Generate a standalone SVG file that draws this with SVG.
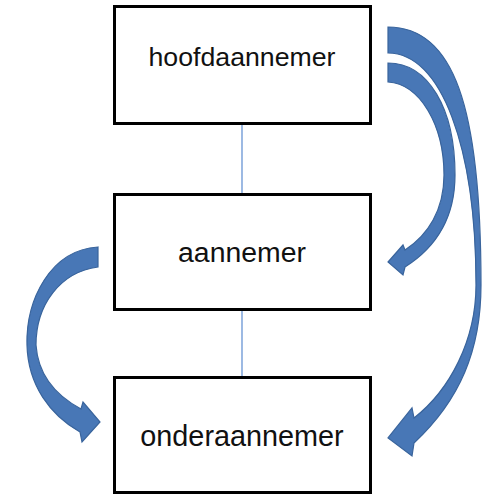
<svg xmlns="http://www.w3.org/2000/svg" width="498" height="496" viewBox="0 0 498 496">
<style>
.box{fill:#ffffff;stroke:#000000;stroke-width:3}
.lbl{font-family:"Liberation Sans",Arial,sans-serif;fill:#111111;text-anchor:middle}
.link{stroke:#5b8bd0;stroke-width:1.2;fill:none}
.arr{fill:#4877b6;stroke:#39649c;stroke-width:1.2;stroke-linejoin:miter}
</style>
<rect width="498" height="496" fill="#ffffff"/>
<g id="connectors">
<line class="link" x1="242" y1="125" x2="242" y2="193"/>
<line class="link" x1="242" y1="311" x2="242" y2="376"/>
<path id="arrow-outer" class="arr" d="M388,27 C453,27 481,104 481,285 C481,350 460,400 414,443 L412,456 L388,438 L412,408 L414,418 C450,390 476,340 476,285 C476,146 441,53 388,53 Z"/>
<path id="arrow-inner" class="arr" d="M388,63 C428,63 455,108 455,175 C455,220 435,248 405,267 L403,275 L388,262 L403,245 L405,250 C428,235 444,210 444,175 C444,125 420,84 388,82 Z"/>
<path id="arrow-left" class="arr" d="M98,247 C50,250 26,300 27,345 C28,385 50,415 80,432 L82,442 L100,422 L83,402 L81,409 C55,395 38,375 36,345 C36,305 60,272 98,267 Z"/>
</g>
<g id="node-hoofdaannemer">
<rect class="box" x="114.5" y="6.5" width="256" height="117"/>
<text class="lbl" x="242" y="66" font-size="26.7">hoofdaannemer</text>
</g>
<g id="node-aannemer">
<rect class="box" x="114.5" y="194.5" width="256" height="115"/>
<text class="lbl" x="242" y="262" font-size="28.4">aannemer</text>
</g>
<g id="node-onderaannemer">
<rect class="box" x="114.5" y="377.5" width="256" height="115"/>
<text class="lbl" x="242" y="446" font-size="28.8">onderaannemer</text>
</g>
</svg>
